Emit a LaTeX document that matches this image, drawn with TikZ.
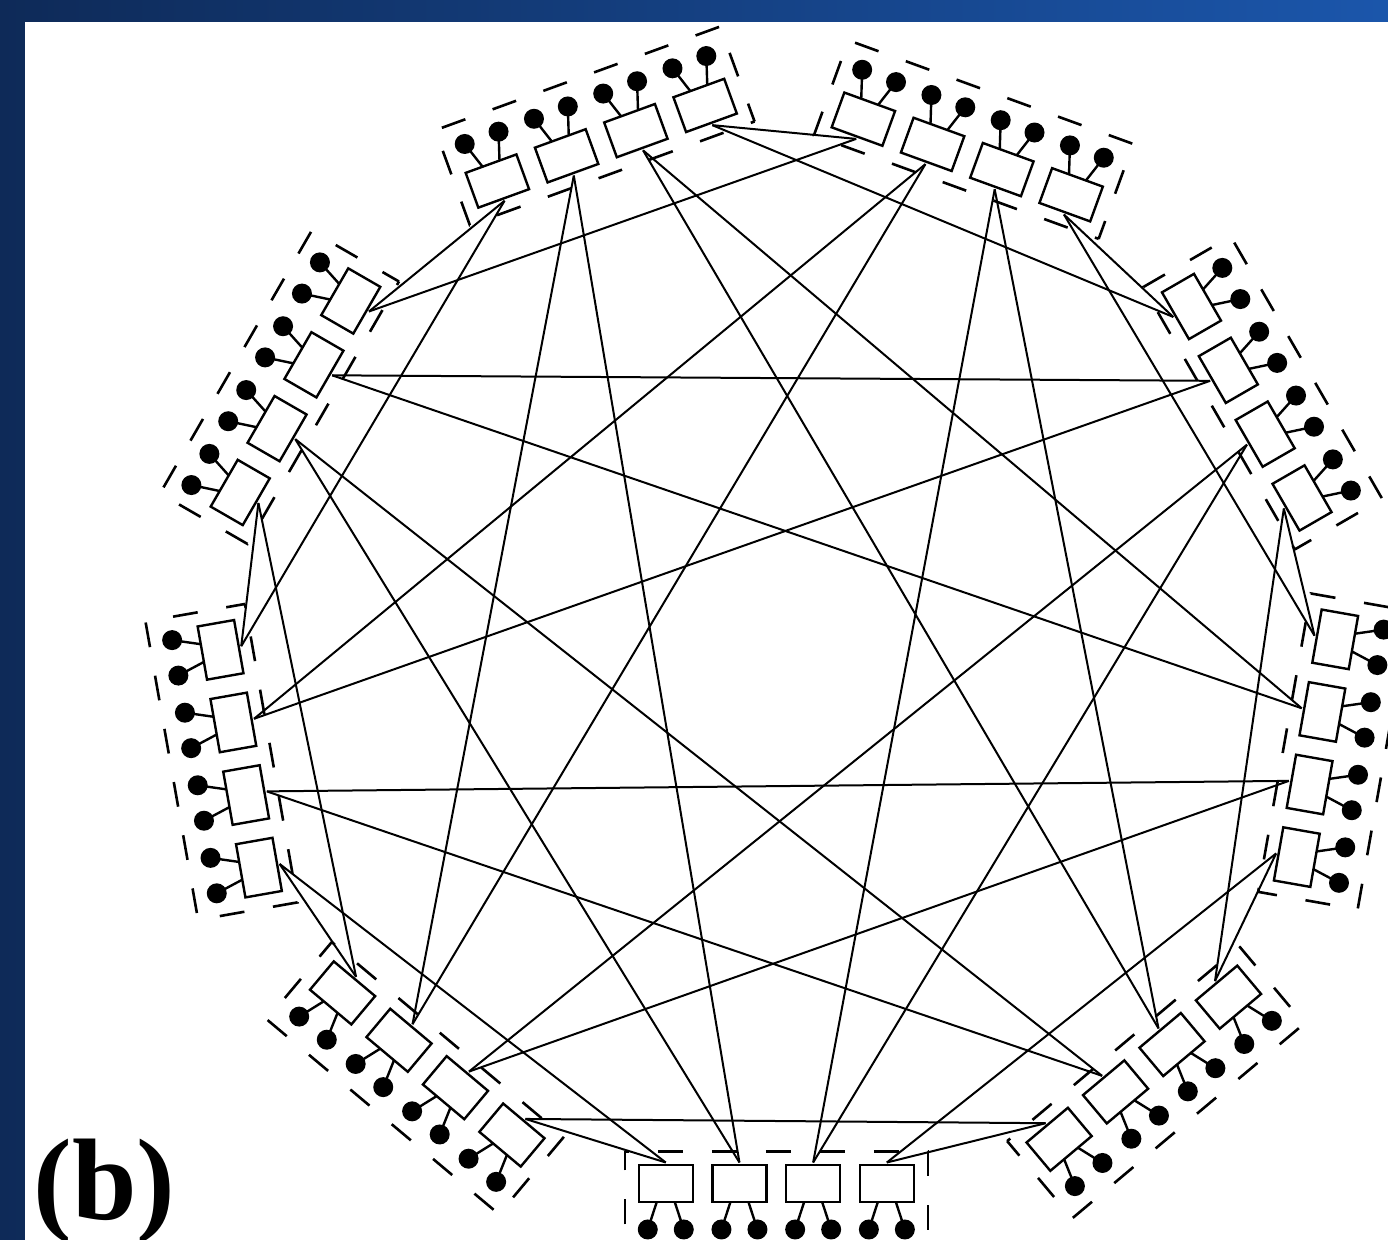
\documentclass[tikz,border=0pt]{standalone}
\usepackage{fontspec}
\newfontfamily\labelfont{Liberation Serif}
\definecolor{navyL}{RGB}{14,42,88}
\definecolor{navyR}{RGB}{27,86,171}
\begin{document}
\begin{tikzpicture}[x=0.5pt,y=0.5pt,
  router/.style={draw, line width=1.2pt, fill=white, rectangle, minimum width=18.5pt, minimum height=27pt, inner sep=0pt, outer sep=0pt},
  term/.style={circle, fill=black, minimum size=10pt, inner sep=0pt, outer sep=0pt},
  stub/.style={line width=1.2pt},
  link/.style={line width=1pt},
  groupbox/.style={line width=1.3pt, dash pattern=on 12.5pt off 14.5pt, dash phase=10.5pt}]
\useasboundingbox (0,0) rectangle (1388,1240);
\shade[left color=navyL, right color=navyR] (0,0) rectangle (1388,1240);
\fill[white] (25,0) rectangle (1388,1218);
\clip (0,0) rectangle (1388,1240);
% groups: index / centre x / centre y / outward angle
\foreach \g/\cx/\cy/\th in {0/776.3/56.5/-90, 1/1143.8/171.75/-50, 2/1316/491.75/-10,
  3/1246.75/837.75/30, 4/967.25/1083/70, 5/601.25/1096.75/110, 6/295.5/843.25/150,
  7/239.75/481.25/190, 8/427.25/176/230} {
  \begin{scope}[shift={(\cx,\cy)}, rotate=\th]
    \draw[groupbox] (-32,-151.5) rectangle (69,151.5);
    \foreach \r in {0,1,2,3} {
      \pgfmathsetmacro\yy{(1.5-\r)*73.7}
      \node[router, rotate=\th] (g\g-\r) at (0,\yy) {};
      \coordinate (a\g-\r) at (-21,\yy);
      \node[term] (t\g-\r-p) at (46,\yy+18) {};
      \node[term] (t\g-\r-m) at (46,\yy-18) {};
      \draw[stub] (18.5,\yy+9) -- (t\g-\r-p.center);
      \draw[stub] (18.5,\yy-9) -- (t\g-\r-m.center);
    }
  \end{scope}
}
% global links
\foreach \g in {0,...,8} {
  \pgfmathtruncatemacro\ga{mod(\g+1,9)}
  \pgfmathtruncatemacro\gb{mod(\g+2,9)}
  \pgfmathtruncatemacro\gc{mod(\g+3,9)}
  \pgfmathtruncatemacro\gd{mod(\g+4,9)}
  \draw[link] (a\g-0) -- (a\ga-3);
  \draw[link] (a\g-0) -- (a\gb-3);
  \draw[link] (a\g-1) -- (a\gc-2);
  \draw[link] (a\g-1) -- (a\gd-2);
}
\node[anchor=base west, inner sep=0pt, font=\labelfont\bfseries\fontsize{58}{60}\selectfont] (lbl) at (33,20) {(b)};
\end{tikzpicture}
\end{document}
